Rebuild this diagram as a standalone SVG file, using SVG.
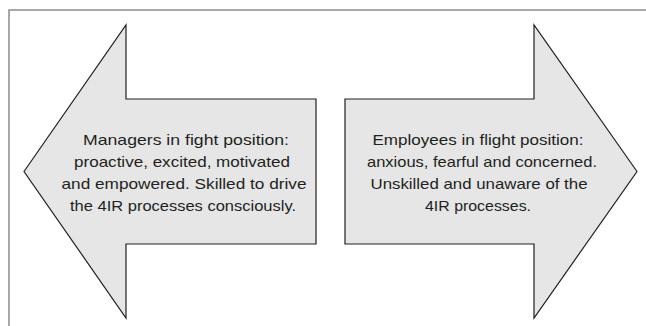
<svg xmlns="http://www.w3.org/2000/svg" width="646" height="326" viewBox="0 0 646 326">
<style>
.arrow{fill:#e6e6e7;stroke:#231f20;stroke-width:1.2;stroke-linejoin:miter}
.frame{fill:none;stroke:#8c8c8c;stroke-width:1.5}
.t{font-family:"Liberation Sans",Arial,sans-serif;font-size:15px;fill:#231f20;text-anchor:middle}
</style>
<rect width="646" height="326" fill="#ffffff"/>
<path class="frame" d="M9,326 V10 H646"/>
<g id="managers">
<polygon class="arrow" points="24,171.5 126,25 126,99 316,99 316,244 126,244 126,318"/>
<text class="t" x="186" y="145" textLength="206" lengthAdjust="spacingAndGlyphs">Managers in fight position:</text>
<text class="t" x="182" y="167" textLength="216" lengthAdjust="spacingAndGlyphs">proactive, excited, motivated</text>
<text class="t" x="184" y="189" textLength="245" lengthAdjust="spacingAndGlyphs">and empowered. Skilled to drive</text>
<text class="t" x="183" y="211" textLength="226" lengthAdjust="spacingAndGlyphs">the 4IR processes consciously.</text>
</g>
<g id="employees">
<polygon class="arrow" points="637,171.5 534,25 534,99 345,99 345,244 534,244 534,318"/>
<text class="t" x="478" y="145" textLength="211" lengthAdjust="spacingAndGlyphs">Employees in flight position:</text>
<text class="t" x="482" y="167" textLength="230" lengthAdjust="spacingAndGlyphs">anxious, fearful and concerned.</text>
<text class="t" x="479" y="189" textLength="217" lengthAdjust="spacingAndGlyphs">Unskilled and unaware of the</text>
<text class="t" x="478" y="211" textLength="106" lengthAdjust="spacingAndGlyphs">4IR processes.</text>
</g>
<g id="connectors"/>
</svg>
